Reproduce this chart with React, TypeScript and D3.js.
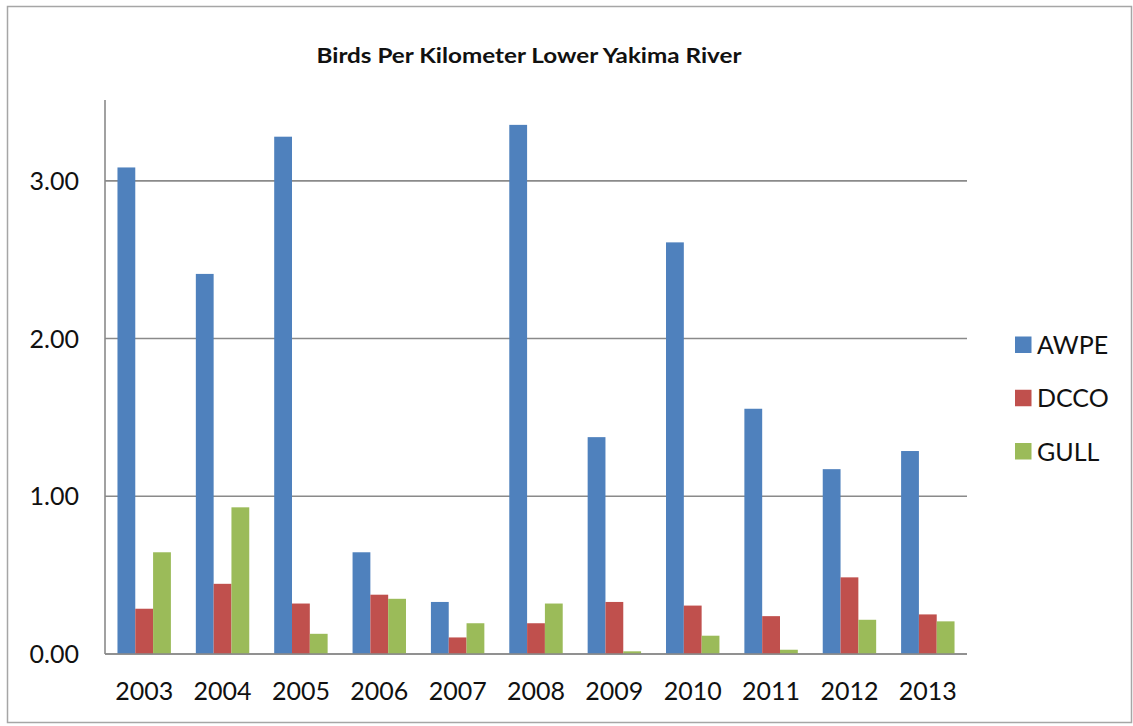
import React from "react";
import * as d3 from "d3";

const years = ["2003", "2004", "2005", "2006", "2007", "2008", "2009", "2010", "2011", "2012", "2013"];
const seriesNames = ["AWPE", "DCCO", "GULL"];
const awpe = [3.085, 2.41, 3.28, 0.645, 0.33, 3.355, 1.375, 2.61, 1.555, 1.172, 1.287];
const dcco = [0.287, 0.445, 0.32, 0.376, 0.105, 0.195, 0.33, 0.307, 0.24, 0.486, 0.251];
const gull = [0.645, 0.93, 0.128, 0.35, 0.195, 0.32, 0.017, 0.116, 0.027, 0.217, 0.207];
const yTicks = [0, 1, 2, 3];
const colors = ["#4F81BD", "#C0504D", "#9BBB59"];
const title = "Birds Per Kilometer Lower Yakima River";

const W = 1133;
const H = 726;
const left = 105;
const right = 967;
const bottom = 654;
const top = 102;
const FONT = "Lato, 'Open Sans', sans-serif";

export default function App() {
  const values = [awpe, dcco, gull];
  const x0 = d3.scaleBand<string>().domain(years).range([left, right]).paddingInner(0).paddingOuter(0);
  const x1 = d3.scaleBand<string>().domain(seriesNames).range([0, x0.bandwidth()]).paddingInner(0).paddingOuter(0.7);
  const y = d3.scaleLinear().domain([0, 3.5]).range([bottom, top]);
  const fmt = d3.format(".2f");
  const legendY = d3.scalePoint<string>().domain(seriesNames).range([345, 451.5]);

  return (
    <svg
      width={W}
      height={H}
      style={{ position: "absolute", left: 0, top: 0, display: "block", background: "#fff" }}
      fontFamily={FONT}
    >
      <rect x={7.5} y={6.5} width={1124} height={716} fill="#fff" stroke="#a6a6a6" strokeWidth={1.5} />
      <text x={529} y={63} textAnchor="middle" fontSize={21} fontWeight="bold" fill="#111" textLength={425} lengthAdjust="spacingAndGlyphs">
        {title}
      </text>
      {yTicks.map((t) => (
        <g key={t}>
          <line x1={left} x2={right} y1={y(t)} y2={y(t)} stroke="#8a8a8a" strokeWidth={1.6} />
          <text x={79} y={y(t)} dy="0.36em" textAnchor="end" fontSize={25} fill="#111">
            {fmt(t)}
          </text>
        </g>
      ))}
      <line x1={left} x2={left} y1={y(3.5) - 2} y2={bottom} stroke="#8a8a8a" strokeWidth={1.6} />
      {years.map((yr, i) => (
        <g key={yr}>
          {seriesNames.map((s, j) => {
            const v = values[j][i];
            return (
              <rect
                key={s}
                x={(x0(yr) as number) + (x1(s) as number)}
                y={y(v)}
                width={x1.bandwidth()}
                height={bottom - y(v)}
                fill={colors[j]}
              />
            );
          })}
          <text x={(x0(yr) as number) + x0.bandwidth() / 2} y={700} textAnchor="middle" fontSize={25} fill="#111">
            {yr}
          </text>
        </g>
      ))}
      <line x1={left} x2={right} y1={bottom} y2={bottom} stroke="#8a8a8a" strokeWidth={1.6} />
      {seriesNames.map((s, j) => (
        <g key={s}>
          <rect x={1015} y={(legendY(s) as number) - 8.5} width={16.5} height={16.5} fill={colors[j]} />
          <text x={1037} y={legendY(s) as number} dy="0.36em" fontSize={25} fill="#111">
            {s}
          </text>
        </g>
      ))}
    </svg>
  );
}
